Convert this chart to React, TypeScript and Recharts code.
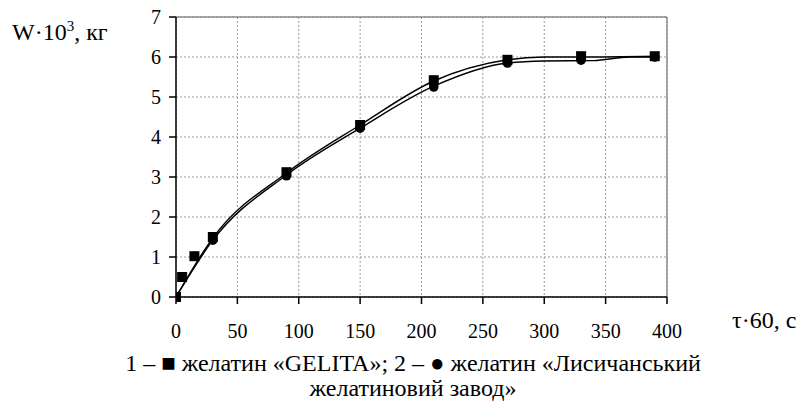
import React from 'react';
import { ComposedChart, Line, Scatter, XAxis, YAxis, CartesianGrid, ReferenceLine } from 'recharts';

// Series 1 – желатин «GELITA» (squares)
const gelitaTime = [0, 5, 15, 30, 90, 150, 210, 270, 330, 390];
const gelitaW = [0, 0.5, 1.02, 1.5, 3.12, 4.3, 5.42, 5.93, 6.02, 6.02];
// Series 2 – желатин «Лисичанський желатиновий завод» (circles)
const lysTime = [0, 30, 90, 150, 210, 270, 330, 390];
const lysW = [0, 1.42, 3.03, 4.22, 5.25, 5.85, 5.92, 6.0];

// Smoothed curves
const curve1Time = [0, 30, 90, 150, 210, 270, 300, 330, 390];
const curve1W = [0, 1.48, 3.1, 4.3, 5.4, 5.93, 6.0, 6.0, 6.02];
const curve2Time = [0, 30, 90, 150, 210, 270, 300, 340, 370, 390];
const curve2W = [0, 1.42, 3.05, 4.22, 5.27, 5.85, 5.9, 5.91, 6.0, 6.0];

const xTicks = [0, 50, 100, 150, 200, 250, 300, 350, 400];
const yTicks = [0, 1, 2, 3, 4, 5, 6, 7];

const zip = (xs: number[], ys: number[]) => xs.map((x, i) => ({ x, y: ys[i] }));

const FONT = '"Liberation Serif", "Times New Roman", serif';

const Square = (p: any) => <rect x={p.cx - 5} y={p.cy - 5} width={10} height={10} fill="#000" />;
const Dot = (p: any) => <circle cx={p.cx} cy={p.cy} r={4.8} fill="#000" />;

export default function App() {
  return (
    <div style={{ position: 'fixed', left: 0, top: 0, width: 803, height: 403, background: '#fff', fontFamily: FONT, color: '#000', overflow: 'hidden' }}>
      <ComposedChart width={803} height={403} margin={{ top: 17, right: 136, left: 0, bottom: 76 }}>
        <CartesianGrid stroke="#9a9a9a" strokeDasharray="2 2" />
        <XAxis
          type="number"
          dataKey="x"
          domain={[0, 400]}
          ticks={xTicks}
          stroke="#000"
          strokeWidth={1.5}
          tickSize={7}
          tickMargin={20}
          height={30}
          tick={{ fill: '#000', fontSize: 20, fontFamily: FONT }}
          allowDataOverflow
        />
        <YAxis
          type="number"
          dataKey="y"
          domain={[0, 7]}
          ticks={yTicks}
          stroke="#000"
          strokeWidth={1.5}
          tickSize={7}
          tickMargin={8}
          width={176}
          tick={{ fill: '#000', fontSize: 20, fontFamily: FONT }}
        />
        <ReferenceLine y={7} stroke="#8c8c8c" strokeWidth={1.5} />
        <ReferenceLine x={400} stroke="#8c8c8c" strokeWidth={1.5} />
        <Line data={zip(curve2Time, curve2W)} dataKey="y" type="monotone" stroke="#000" strokeWidth={1.4} dot={false} isAnimationActive={false} />
        <Line data={zip(curve1Time, curve1W)} dataKey="y" type="monotone" stroke="#000" strokeWidth={1.4} dot={false} isAnimationActive={false} />
        <Scatter data={zip(lysTime, lysW)} dataKey="y" shape={Dot} isAnimationActive={false} />
        <Scatter data={zip(gelitaTime, gelitaW)} dataKey="y" shape={Square} isAnimationActive={false} />
      </ComposedChart>
      <div style={{ position: 'absolute', left: 12, top: 20, fontSize: 24, lineHeight: '24px', whiteSpace: 'nowrap' }}>
        W·10<span style={{ fontSize: 15, position: 'relative', top: -9 }}>3</span>, кг
      </div>
      <div style={{ position: 'absolute', left: 732, top: 308, fontSize: 24, lineHeight: '24px', whiteSpace: 'nowrap' }}>
        τ·60, с
      </div>
      <div style={{ position: 'absolute', left: 63, width: 700, top: 351, fontSize: 24, lineHeight: '25px', textAlign: 'center', whiteSpace: 'nowrap' }}>
        1 – ■ желатин «GELITA»; 2 – ● желатин «Лисичанський<br />желатиновий завод»
      </div>
    </div>
  );
}
